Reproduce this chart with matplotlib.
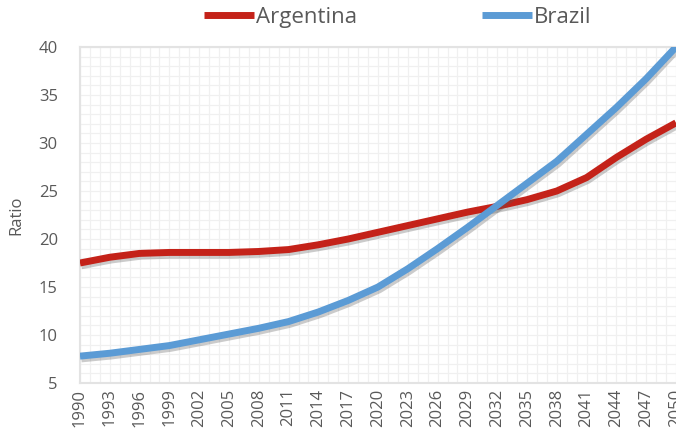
import matplotlib.pyplot as plt
import matplotlib.patheffects as pe
from matplotlib.ticker import MultipleLocator

# === data ===
years = [1990, 1993, 1996, 1999, 2002, 2005, 2008, 2011, 2014, 2017, 2020,
         2023, 2026, 2029, 2032, 2035, 2038, 2041, 2044, 2047, 2050]
argentina = [17.5, 18.1, 18.5, 18.6, 18.6, 18.6, 18.7, 18.9, 19.4, 20.0, 20.7,
             21.4, 22.1, 22.8, 23.4, 24.1, 25.0, 26.4, 28.5, 30.4, 32.1]
brazil = [7.8, 8.1, 8.5, 8.9, 9.5, 10.1, 10.7, 11.4, 12.4, 13.6, 15.0,
          16.9, 19.0, 21.2, 23.5, 25.8, 28.1, 30.9, 33.7, 36.7, 40.0]

RED = "#C42219"
BLUE = "#5B9BD5"
GRAY = "#595959"

plt.rcParams["font.family"] = ["Open Sans", "DejaVu Sans"]

fig = plt.figure(figsize=(6.76, 4.34), dpi=100)
ax = fig.add_axes([80 / 676, 51 / 434, 596 / 676, 336 / 434])

shadow = [pe.SimpleLineShadow(offset=(1.0, -2.0), shadow_color="#555555", alpha=0.3),
          pe.Normal()]
ax.plot(years, argentina, color=RED, lw=5, solid_capstyle="butt",
        solid_joinstyle="round", label="Argentina", path_effects=shadow, zorder=3)
ax.plot(years, brazil, color=BLUE, lw=5, solid_capstyle="butt",
        solid_joinstyle="round", label="Brazil", path_effects=shadow, zorder=4)

ax.set_xlim(1990, 2050)
ax.set_ylim(5, 40)
ax.set_xticks(years)
ax.set_xticklabels([str(y) for y in years], rotation=90)
ax.yaxis.set_major_locator(MultipleLocator(5))
ax.xaxis.set_minor_locator(MultipleLocator(1))
ax.yaxis.set_minor_locator(MultipleLocator(1))
ax.grid(which="both", color="#F0F0F0", lw=0.9)
ax.set_axisbelow(True)

ax.tick_params(which="both", length=0, colors=GRAY, labelsize=12)
ax.tick_params(axis="x", pad=4)
ax.tick_params(axis="y", pad=16)
for s in ax.spines.values():
    s.set_color("#E3E3E3")
    s.set_linewidth(1.5)
ax.spines["right"].set_visible(False)

ax.set_ylabel("Ratio", color=GRAY, fontsize=12, labelpad=10)

leg = fig.legend(loc="upper center", bbox_to_anchor=(0.588, 1.03), ncol=2,
                 frameon=False, fontsize=16, handlelength=2.25, handletextpad=0.1,
                 columnspacing=5.6, labelcolor=GRAY)
for line in leg.get_lines():
    line.set_linewidth(5)
    line.set_path_effects([])

plt.savefig("out.png", dpi=100)
